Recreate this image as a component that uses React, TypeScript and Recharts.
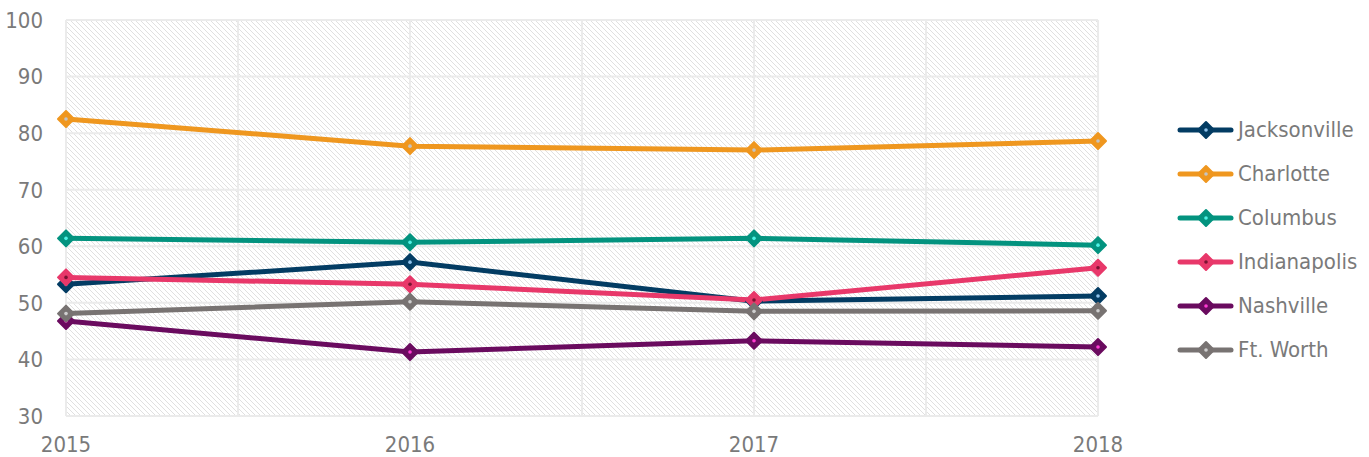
import React from "react";
import { LineChart, Line, XAxis, YAxis, CartesianGrid, Legend } from "recharts";

const years = ["2015", "2016", "2017", "2018"];
const jacksonville = [53.3, 57.2, 50.3, 51.2];
const charlotte = [82.5, 77.7, 77.0, 78.6];
const columbus = [61.4, 60.7, 61.4, 60.2];
const indianapolis = [54.5, 53.3, 50.5, 56.2];
const nashville = [46.8, 41.3, 43.3, 42.2];
const ftWorth = [48.1, 50.2, 48.5, 48.6];
const yTicks = [30, 40, 50, 60, 70, 80, 90, 100];
const xTicks = [0, 0.5, 1, 1.5, 2, 2.5, 3];

const series = [
  { key: "Jacksonville", values: jacksonville, color: "#033c63", inner: "#8fc3ec" },
  { key: "Charlotte", values: charlotte, color: "#ef971f", inner: "#c4c4c4" },
  { key: "Columbus", values: columbus, color: "#03937f", inner: "#4ff2e6" },
  { key: "Indianapolis", values: indianapolis, color: "#e8386a", inner: "#7a1232" },
  { key: "Nashville", values: nashville, color: "#6a0b5f", inner: "#ff3ad2" },
  { key: "Ft. Worth", values: ftWorth, color: "#787372", inner: "#cfcfcf" },
];

const data = years.map((y, i) => {
  const row: Record<string, number | string> = { idx: i, year: y };
  series.forEach((s) => (row[s.key] = s.values[i]));
  return row;
});

const FONT = "'DejaVu Sans Condensed', 'Liberation Sans', sans-serif";
const TEXT = "#7a7a7a";
const FS = 22;

const Diamond = ({ cx, cy, fill, inner }: any) => {
  if (cx == null || cy == null) return null;
  const h = 8;
  return (
    <g>
      <polygon
        points={`${cx},${cy - h} ${cx + h},${cy} ${cx},${cy + h} ${cx - h},${cy}`}
        fill={fill}
        stroke={fill}
        strokeWidth={2}
        strokeLinejoin="round"
      />
      <circle cx={cx} cy={cy} r={1.8} fill={inner} />
    </g>
  );
};

const LegendContent = ({ payload }: any) => {
  const items = [...(payload || [])].sort(
    (a: any, b: any) => series.findIndex((s) => s.key === a.value) - series.findIndex((s) => s.key === b.value)
  );
  return (
    <div style={{ fontFamily: FONT }}>
      {items.map((p: any) => {
        const s = series.find((x) => x.key === p.value) || series[0];
        return (
          <div key={p.value} style={{ display: "flex", alignItems: "center", height: 44 }}>
            <svg width={60} height={20} style={{ display: "block" }}>
              <line x1={4} y1={10} x2={55} y2={10} stroke={s.color} strokeWidth={5} strokeLinecap="round" />
              <Diamond cx={30} cy={10} fill={s.color} inner={s.inner} />
            </svg>
            <span style={{ marginLeft: 2, fontSize: FS, color: TEXT, lineHeight: "44px" }}>{p.value}</span>
          </div>
        );
      })}
    </div>
  );
};

export default function App() {
  return (
    <div style={{ position: "absolute", left: 0, top: 0, width: 1369, height: 457, background: "#fff" }}>
      <LineChart width={1369} height={457} data={data} margin={{ top: 20, right: 271, bottom: 0, left: 0 }}>
        <defs>
          <pattern id="hatch" patternUnits="userSpaceOnUse" width={5} height={5}>
            <rect width={5} height={5} fill="#ffffff" />
            <path d="M0,0 L5,5 M-1,4 L1,6 M4,-1 L6,1" stroke="#e0e0e0" strokeWidth={1} />
          </pattern>
        </defs>
        <CartesianGrid fill="url(#hatch)" fillOpacity={1} stroke="#ebebeb" strokeWidth={2} />
        <XAxis
          dataKey="idx"
          type="number"
          domain={[0, 3]}
          ticks={xTicks}
          interval={0}
          axisLine={false}
          tickLine={false}
          tickSize={6}
          tickMargin={14}
          height={41}
          tickFormatter={(v: number) => (Number.isInteger(v) ? years[v] : "")}
          tick={{ fontFamily: FONT, fontSize: FS, fill: TEXT }}
        />
        <YAxis
          domain={[30, 100]}
          ticks={yTicks}
          interval={0}
          axisLine={false}
          tickLine={false}
          tickSize={6}
          tickMargin={17}
          width={66}
          tick={{ fontFamily: FONT, fontSize: FS, fill: TEXT }}
        />
        <Legend
          layout="vertical"
          align="center"
          verticalAlign="middle"
          content={<LegendContent />}
          wrapperStyle={{ left: 1176, top: 108, width: 193 }}
        />
        {series.map((s) => (
          <Line
            key={s.key}
            dataKey={s.key}
            name={s.key}
            stroke={s.color}
            strokeWidth={5}
            isAnimationActive={false}
            activeDot={false}
            dot={(p: any) => <Diamond key={`${s.key}-${p.index}`} cx={p.cx} cy={p.cy} fill={s.color} inner={s.inner} />}
          />
        ))}
      </LineChart>
    </div>
  );
}
